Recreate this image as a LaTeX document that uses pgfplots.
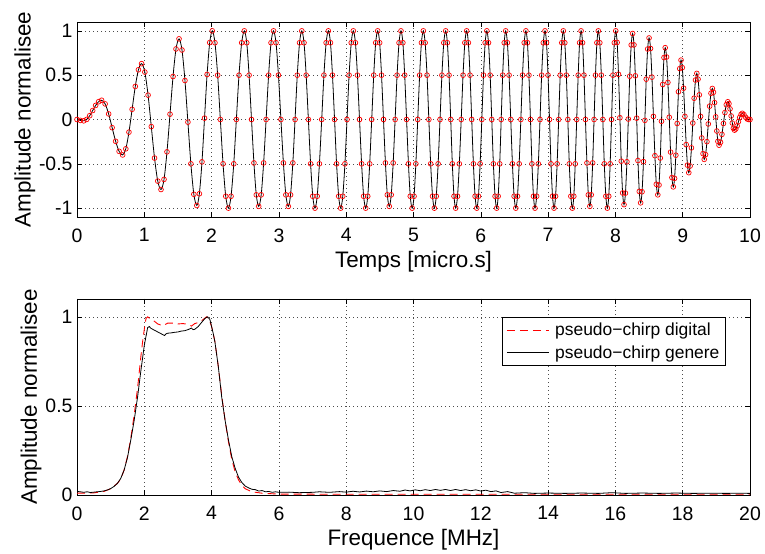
\documentclass[border=0pt]{standalone}
\usepackage{fontspec}
\setmainfont{Liberation Sans}
\usepackage{pgfplots}
\usepackage{pgfplotstable}
\pgfplotsset{compat=1.18}

\pgfplotstableread{
t y
0 0
0.05 -0.01
0.10 -0.015
0.144 0.001
0.189 0.043
0.233 0.101
0.277 0.159
0.322 0.201
0.366 0.217
0.418 0.176
0.470 0.063
0.522 -0.092
0.574 -0.246
0.626 -0.359
0.678 -0.40
0.725 -0.331
0.772 -0.143
0.819 0.115
0.866 0.373
0.913 0.561
0.96 0.63
1.008 0.535
1.056 0.275
1.104 -0.08
1.152 -0.435
1.200 -0.695
1.248 -0.79
1.293 -0.676
1.337 -0.365
1.382 0.06
1.427 0.485
1.471 0.796
1.516 0.91
1.560 0.784
1.604 0.44
1.648 -0.03
1.692 -0.50
1.736 -0.844
1.78 -0.97
1.818 -0.838
1.857 -0.478
1.895 0.015
1.933 0.508
1.972 0.868
2.01 1.0
2.05 0.866
2.09 0.5
2.13 0
2.17 -0.5
2.21 -0.866
2.25 -1
2.289 -0.866
2.329 -0.5
2.368 0
2.407 0.5
2.447 0.866
2.486 1
2.522 0.866
2.557 0.5
2.593 0
2.629 -0.49
2.664 -0.85
2.70 -0.98
2.737 -0.85
2.773 -0.49
2.81 0
2.847 0.5
2.883 0.866
2.92 1
2.957 0.866
2.993 0.5
3.03 0
3.067 -0.49
3.103 -0.85
3.14 -0.98
3.173 -0.85
3.207 -0.49
3.24 0
3.273 0.5
3.307 0.866
3.34 1
3.373 0.866
3.405 0.5
3.438 0
3.471 -0.5
3.503 -0.866
3.536 -1
3.569 -0.866
3.602 -0.5
3.636 0
3.669 0.5
3.702 0.866
3.735 1
3.766 0.866
3.796 0.5
3.827 0
3.857 -0.5
3.888 -0.866
3.918 -1
3.949 -0.866
3.981 -0.5
4.012 0
4.043 0.5
4.075 0.866
4.106 1
4.137 0.866
4.167 0.5
4.198 0
4.229 -0.5
4.259 -0.866
4.29 -1
4.320 -0.866
4.349 -0.5
4.379 0
4.409 0.5
4.438 0.866
4.468 1
4.497 0.866
4.525 0.5
4.554 0
4.583 -0.49
4.611 -0.85
4.64 -0.98
4.669 -0.85
4.698 -0.49
4.727 0
4.756 0.5
4.785 0.866
4.814 1
4.842 0.866
4.869 0.5
4.897 0
4.925 -0.5
4.952 -0.866
4.98 -1
5.008 -0.866
5.035 -0.5
5.063 0
5.091 0.5
5.118 0.866
5.146 1
5.173 0.866
5.201 0.5
5.228 0
5.255 -0.5
5.283 -0.866
5.31 -1
5.338 -0.866
5.366 -0.5
5.394 0
5.422 0.5
5.450 0.866
5.478 1
5.503 0.866
5.528 0.5
5.553 0
5.577 -0.5
5.602 -0.866
5.627 -1
5.654 -0.866
5.681 -0.5
5.709 0
5.736 0.5
5.763 0.866
5.79 1
5.815 0.866
5.84 0.5
5.865 0
5.89 -0.5
5.915 -0.866
5.94 -1
5.965 -0.866
5.99 -0.5
6.015 0
6.04 0.5
6.065 0.866
6.09 1
6.114 0.866
6.139 0.5
6.163 0
6.187 -0.5
6.212 -0.866
6.236 -1
6.258 -0.866
6.281 -0.5
6.303 0
6.325 0.5
6.348 0.866
6.37 1
6.395 0.866
6.42 0.5
6.445 0
6.47 -0.5
6.495 -0.866
6.52 -1
6.545 -0.866
6.57 -0.5
6.595 0
6.62 0.5
6.645 0.866
6.67 1
6.693 0.866
6.715 0.5
6.738 0
6.76 -0.5
6.783 -0.866
6.805 -1
6.830 -0.866
6.855 -0.5
6.880 0
6.904 0.5
6.929 0.866
6.954 1
6.976 0.866
6.999 0.5
7.021 0
7.043 -0.5
7.066 -0.866
7.088 -1
7.111 -0.866
7.134 -0.5
7.157 0
7.18 0.5
7.203 0.866
7.226 1
7.248 0.866
7.271 0.5
7.293 0
7.315 -0.5
7.338 -0.866
7.36 -1
7.382 -0.866
7.403 -0.5
7.425 0
7.447 0.5
7.468 0.866
7.49 1
7.512 0.866
7.533 0.5
7.555 0
7.577 -0.49
7.598 -0.85
7.62 -0.98
7.641 -0.85
7.662 -0.49
7.683 0
7.704 0.5
7.725 0.866
7.746 1
7.768 0.866
7.791 0.5
7.813 0
7.835 -0.5
7.858 -0.866
7.88 -1
7.901 -0.866
7.922 -0.5
7.943 0
7.963 0.5
7.984 0.866
8.005 1
8.026 0.869
8.046 0.51
8.067 0.02
8.087 -0.47
8.107 -0.829
8.128 -0.96
8.149 -0.831
8.171 -0.477
8.192 0.005
8.213 0.488
8.235 0.841
8.256 0.97
8.276 0.842
8.296 0.493
8.316 0.015
8.335 -0.463
8.355 -0.812
8.375 -0.94
8.396 -0.815
8.417 -0.475
8.438 -0.01
8.458 0.455
8.479 0.795
8.50 0.92
8.522 0.801
8.543 0.478
8.565 0.035
8.587 -0.408
8.608 -0.731
8.63 -0.85
8.648 -0.739
8.667 -0.435
8.685 -0.02
8.703 0.395
8.722 0.699
8.74 0.81
8.76 0.705
8.78 0.418
8.80 0.025
8.82 -0.368
8.84 -0.655
8.86 -0.76
8.879 -0.664
8.898 -0.403
8.918 -0.045
8.937 0.313
8.956 0.574
8.975 0.67
8.994 0.585
9.013 0.353
9.033 0.035
9.052 -0.283
9.071 -0.515
9.09 -0.60
9.11 -0.525
9.13 -0.32
9.15 -0.04
9.17 0.24
9.19 0.445
9.21 0.52
9.228 0.455
9.247 0.278
9.265 0.035
9.283 -0.208
9.302 -0.385
9.32 -0.45
9.34 -0.396
9.36 -0.25
9.38 -0.05
9.40 0.15
9.42 0.296
9.44 0.35
9.457 0.307
9.473 0.19
9.49 0.03
9.507 -0.13
9.523 -0.247
9.54 -0.29
9.562 -0.257
9.583 -0.168
9.605 -0.045
9.627 0.078
9.648 0.167
9.67 0.20
9.687 0.179
9.703 0.12
9.72 0.04
9.737 -0.04
9.753 -0.099
9.77 -0.12
9.789 -0.107
9.809 -0.073
9.828 -0.025
9.847 0.023
9.867 0.057
9.886 0.07
9.91 0.055
9.935 0.025
9.96 0.005
9.98 0
10 0
}\chirp

\pgfplotstableread{
f a
0 0.020
0.1 0.018
0.2 0.015
0.3 0.018
0.4 0.014
0.5 0.016
0.6 0.018
0.7 0.020
0.8 0.023
0.9 0.028
1.0 0.036
1.1 0.048
1.2 0.065
1.3 0.093
1.4 0.14
1.5 0.21
1.6 0.31
1.7 0.42
1.8 0.55
1.9 0.70
2.0 0.84
2.05 0.89
2.1 0.94
2.15 0.945
2.2 0.935
2.3 0.925
2.4 0.915
2.5 0.905
2.6 0.895
2.65 0.905
2.7 0.908
2.8 0.91
2.9 0.913
3.0 0.915
3.1 0.92
3.2 0.922
3.3 0.928
3.4 0.937
3.45 0.928
3.5 0.93
3.6 0.945
3.7 0.968
3.8 0.99
3.88 1.0
3.95 0.985
4.0 0.945
4.05 0.905
4.1 0.857
4.2 0.72
4.3 0.55
4.4 0.42
4.5 0.31
4.6 0.215
4.7 0.15
4.8 0.10
4.9 0.07
5.0 0.05
5.1 0.04
5.2 0.032
5.3 0.03
5.4 0.022
5.5 0.025
5.6 0.018
5.7 0.02
5.8 0.015
5.9 0.018
6.0 0.015
6.3 0.016
6.6 0.013
7.0 0.015
7.2 0.018
7.5 0.015
7.8 0.019
8.0 0.016
8.2 0.021
8.4 0.017
8.6 0.022
8.8 0.018
9.0 0.023
9.2 0.019
9.4 0.025
9.6 0.021
9.75 0.028
9.9 0.023
10.05 0.029
10.2 0.024
10.35 0.030
10.5 0.025
10.65 0.031
10.8 0.026
10.95 0.031
11.1 0.025
11.25 0.031
11.4 0.025
11.55 0.030
11.7 0.024
11.85 0.029
12.0 0.022
12.15 0.027
12.3 0.019
12.45 0.023
12.6 0.014
12.8 0.019
13.0 0.010
13.3 0.013
13.6 0.009
14.0 0.011
14.5 0.009
15.0 0.011
15.5 0.009
15.9 0.013
16.3 0.009
16.8 0.011
17.3 0.009
17.8 0.011
18.3 0.009
18.8 0.010
19.3 0.009
19.7 0.010
20 0.009
}\genere

\pgfplotstableread{
f a
0 0.010
0.5 0.012
0.8 0.020
1.0 0.035
1.2 0.065
1.3 0.09
1.4 0.14
1.5 0.215
1.6 0.32
1.7 0.45
1.8 0.60
1.9 0.78
1.95 0.86
2.0 0.93
2.05 0.99
2.1 1.0
2.2 0.985
2.3 0.975
2.4 0.96
2.55 0.95
2.7 0.965
2.85 0.965
3.0 0.96
3.15 0.962
3.3 0.958
3.4 0.948
3.5 0.962
3.65 0.97
3.75 0.985
3.85 1.0
3.92 0.99
4.0 0.945
4.1 0.86
4.2 0.72
4.3 0.56
4.4 0.42
4.5 0.30
4.6 0.20
4.7 0.13
4.8 0.085
4.9 0.055
5.0 0.035
5.2 0.018
5.5 0.010
6.0 0.005
8.0 0.004
12.0 0.004
16.0 0.004
20 0.004
}\digital

\pgfplotsset{
  matlab/.style={
    scale only axis,
    anchor=south west,
    width=673bp,
    axis line style={line width=0.8bp},
    tick align=inside,
    major tick length=5bp,
    tick style={line width=0.6bp, black},
    grid=major,
    major grid style={line width=0.6bp, black!70, dash pattern=on 0.8bp off 3.2bp},
    /pgf/number format/assume math mode=true,
    ticklabel style={font=\fontsize{19.5}{22}\selectfont},
    label style={font=\fontsize{22.5}{26}\selectfont},
    xticklabel style={yshift=-8bp},
    yticklabel style={xshift=-1bp},
  }
}

\begin{document}
\begin{tikzpicture}
\useasboundingbox (0bp,0bp) rectangle (765bp,554bp);

\begin{axis}[matlab,
  at={(77bp,337bp)}, height=195bp,
  xmin=0, xmax=10, ymin=-1.1, ymax=1.1,
  xtick={0,1,...,10},
  ytick={-1,-0.5,0,0.5,1},
  yticklabels={-1,-0.5,0,0.5,1},
  xlabel={Temps [micro.s]},
  ylabel={Amplitude normalisee},
  xlabel style={yshift=-2bp},
  ylabel style={yshift=-3bp},
]
\addplot[only marks, mark=o, mark size=2.4bp, red, mark options={line width=0.7bp}] table[x=t,y=y] {\chirp};
\addplot[black, line width=0.8bp, smooth] table[x=t,y=y] {\chirp};
\end{axis}

\begin{axis}[matlab,
  at={(77bp,59bp)}, height=196bp,
  xmin=0, xmax=20, ymin=0, ymax=1.1,
  xtick={0,2,...,20},
  ytick={0,0.5,1},
  yticklabels={0,0.5,1},
  xlabel={Frequence [MHz]},
  ylabel={Amplitude normalisee},
  xlabel style={yshift=-2bp},
  ylabel style={yshift=-3bp},
  legend style={at={(0.964,0.908)}, anchor=north east, draw=black, line width=0.6bp,
    font=\fontsize{17.5}{20}\selectfont, inner xsep=4bp, inner ysep=4bp,
    row sep=4bp, column sep=4bp},
  legend cell align=left,
  legend image post style={line width=0.8bp},
  legend image code/.code={\draw[#1] (0bp,0bp) -- (42bp,0bp);},
]
\addplot[red, line width=0.9bp, dash pattern=on 8bp off 5bp] table[x=f,y=a] {\digital};
\addlegendentry{pseudo−chirp digital}
\addplot[black, line width=0.8bp] table[x=f,y=a] {\genere};
\addlegendentry{pseudo−chirp genere}
\end{axis}
\end{tikzpicture}
\end{document}
